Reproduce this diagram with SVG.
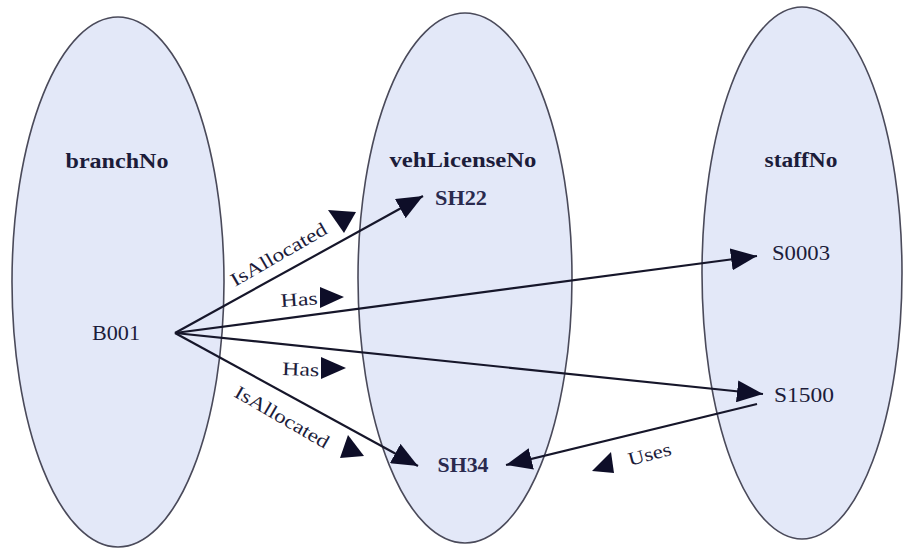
<svg xmlns="http://www.w3.org/2000/svg" width="906" height="549" viewBox="0 0 906 549">
<style>
.set{fill:#e3e8f8;stroke:#4a4a5a;stroke-width:1.6}
.title{font-family:"Liberation Serif",serif;font-weight:bold;font-size:20px;fill:#1c1c3a}
.val{font-family:"Liberation Serif",serif;font-size:21px;fill:#1c1c3a}
.valb{font-family:"Liberation Serif",serif;font-weight:bold;font-size:21px;fill:#2a2a4e}
.lbl{font-family:"Liberation Serif",serif;font-size:19px;fill:#1c1c3a}
.edge{stroke:#16162a;stroke-width:2.2;fill:none;marker-end:url(#ah)}
.tri{fill:#0e0e28}
</style>
<defs>
<marker id="ah" markerUnits="userSpaceOnUse" markerWidth="27" markerHeight="22" refX="26" refY="11" orient="auto">
<path d="M0,0 L26,11 L0,22 z" fill="#0e0e28"/>
</marker>
</defs>
<rect width="906" height="549" fill="#ffffff"/>
<g id="branchNo">
<ellipse class="set" cx="118" cy="282" rx="106" ry="265"/>
<text class="title" x="117" y="168" text-anchor="middle" textLength="103" lengthAdjust="spacingAndGlyphs">branchNo</text>
<text class="val" x="116" y="340" text-anchor="middle" textLength="48" lengthAdjust="spacingAndGlyphs">B001</text>
</g>
<g id="vehLicenseNo">
<ellipse class="set" cx="465" cy="278" rx="107" ry="265"/>
<text class="title" x="463" y="167" text-anchor="middle" textLength="147" lengthAdjust="spacingAndGlyphs">vehLicenseNo</text>
<text class="valb" x="461" y="205" text-anchor="middle" textLength="52" lengthAdjust="spacingAndGlyphs">SH22</text>
<text class="valb" x="463" y="472" text-anchor="middle" textLength="51" lengthAdjust="spacingAndGlyphs">SH34</text>
</g>
<g id="staffNo">
<ellipse class="set" cx="802" cy="273" rx="100" ry="266"/>
<text class="title" x="801" y="167" text-anchor="middle" textLength="73" lengthAdjust="spacingAndGlyphs">staffNo</text>
<text class="val" x="801" y="260" text-anchor="middle" textLength="58" lengthAdjust="spacingAndGlyphs">S0003</text>
<text class="val" x="804" y="402" text-anchor="middle" textLength="60" lengthAdjust="spacingAndGlyphs">S1500</text>
</g>
<g id="connectors">
<line class="edge" x1="175" y1="333" x2="423" y2="196"/>
<line class="edge" x1="175" y1="333" x2="757" y2="256"/>
<line class="edge" x1="175" y1="333" x2="763" y2="394"/>
<line class="edge" x1="175" y1="333" x2="418" y2="466"/>
<line class="edge" x1="757" y1="404" x2="506" y2="465"/>
<text class="lbl" transform="translate(235,287) rotate(-30)" textLength="108" lengthAdjust="spacingAndGlyphs">IsAllocated</text>
<text class="lbl" transform="translate(281,307) rotate(-4)" textLength="37" lengthAdjust="spacingAndGlyphs">Has</text>
<text class="lbl" transform="translate(282,375) rotate(2)" textLength="37" lengthAdjust="spacingAndGlyphs">Has</text>
<text class="lbl" transform="translate(233,396) rotate(30)" textLength="106" lengthAdjust="spacingAndGlyphs">IsAllocated</text>
<text class="lbl" transform="translate(630,466) rotate(-15)" textLength="44" lengthAdjust="spacingAndGlyphs">Uses</text>
<polygon class="tri" points="328,210 356,212 344,233"/>
<polygon class="tri" points="320,287 344,297 320,308"/>
<polygon class="tri" points="321,357 346,368 321,379"/>
<polygon class="tri" points="348,435 364,456 340,458"/>
<polygon class="tri" points="592,471 611,452 614,473"/>
</g>
</svg>
